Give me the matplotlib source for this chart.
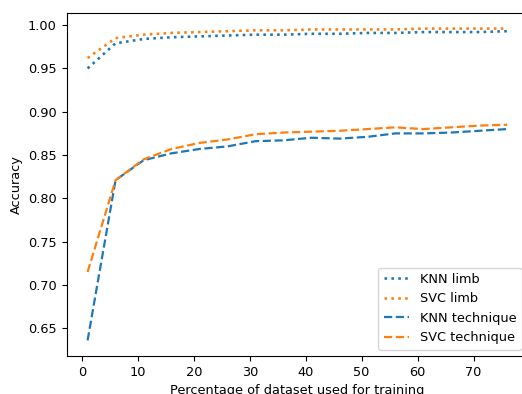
import matplotlib
matplotlib.use('Agg')
import matplotlib.pyplot as plt

# training percentage
pct = [1, 6, 11, 16, 21, 26, 31, 36, 41, 46, 51, 56, 61, 66, 71, 76]

knn_limb = [0.950, 0.979, 0.984, 0.986, 0.987, 0.988, 0.989, 0.989,
            0.990, 0.990, 0.991, 0.991, 0.992, 0.992, 0.992, 0.993]
svc_limb = [0.962, 0.985, 0.989, 0.991, 0.992, 0.993, 0.994, 0.994,
            0.995, 0.995, 0.995, 0.995, 0.996, 0.996, 0.996, 0.996]
knn_technique = [0.636, 0.821, 0.844, 0.852, 0.857, 0.860, 0.866, 0.867,
                 0.870, 0.869, 0.871, 0.875, 0.875, 0.876, 0.878, 0.880]
svc_technique = [0.715, 0.821, 0.845, 0.857, 0.864, 0.868, 0.874, 0.876,
                 0.877, 0.878, 0.880, 0.882, 0.880, 0.882, 0.884, 0.885]

plt.rcParams['font.size'] = 9.3
lw_dot = 1.87
lw_dash = 1.6

fig = plt.figure(figsize=(5.22, 3.94), dpi=100)
# axes run slightly past the right edge, as in the reference crop
ax = fig.add_axes([0.1276, 0.0964, 0.884, 0.8706])

ax.plot(pct, knn_limb, ':', color='tab:blue', lw=lw_dot, label='KNN limb')
ax.plot(pct, svc_limb, ':', color='tab:orange', lw=lw_dot, label='SVC limb')
ax.plot(pct, knn_technique, '--', color='tab:blue', lw=lw_dash, label='KNN technique')
ax.plot(pct, svc_technique, '--', color='tab:orange', lw=lw_dash, label='SVC technique')

ax.set_xlabel('Percentage of dataset used for training')
ax.set_ylabel('Accuracy')
ax.legend(loc='lower right')

fig.savefig('out.png', dpi=100, facecolor='white')
plt.close()
